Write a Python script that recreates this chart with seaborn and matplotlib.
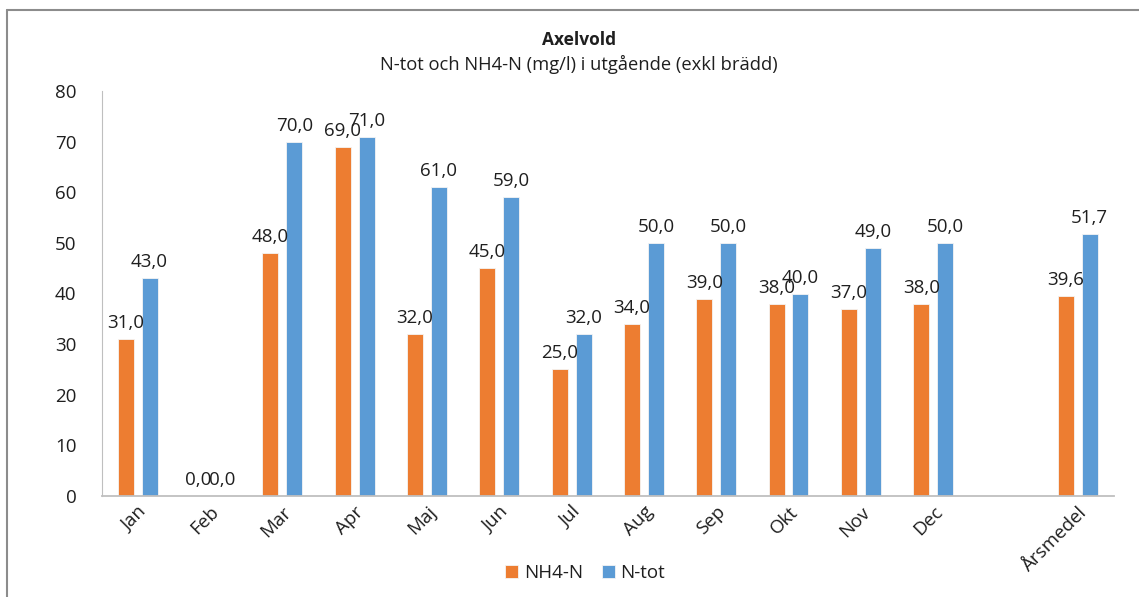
import seaborn as sns
import matplotlib.pyplot as plt
import pandas as pd
from matplotlib.lines import Line2D

# chart data
months = ["Jan", "Feb", "Mar", "Apr", "Maj", "Jun", "Jul", "Aug", "Sep", "Okt", "Nov", "Dec", "Årsmedel"]
nh4_n = [31.0, 0.0, 48.0, 69.0, 32.0, 45.0, 25.0, 34.0, 39.0, 38.0, 37.0, 38.0, 39.6]
n_tot = [43.0, 0.0, 70.0, 71.0, 61.0, 59.0, 32.0, 50.0, 50.0, 40.0, 49.0, 50.0, 51.7]
series_names = ["NH4-N", "N-tot"]
# empty slot between Dec and Årsmedel, like in the Excel chart
order = months[:12] + [" "] + months[12:]
yticks = [0, 10, 20, 30, 40, 50, 60, 70, 80]

title = "Axelvold"
subtitle = "N-tot och NH4-N (mg/l) i utgående (exkl brädd)"

df = pd.DataFrame({
    "month": months * 2,
    "value": nh4_n + n_tot,
    "serie": [series_names[0]] * len(months) + [series_names[1]] * len(months),
})

sns.set_style("white")
plt.rcParams["font.family"] = ["Open Sans", "DejaVu Sans"]
text_col = "#1f1f1f"
axis_col = "#bfbfbf"

fig = plt.figure(figsize=(11.39, 5.97), dpi=100)
ax = fig.add_axes([101.5 / 1139, 1 - 496 / 597, (1114 - 101.5) / 1139, (496 - 91) / 597])

sns.barplot(data=df, x="month", y="value", hue="serie", order=order,
            hue_order=series_names, palette=["#ED7D31", "#5B9BD5"], saturation=1,
            width=0.66, gap=0.33, edgecolor="#f4f4f4", linewidth=0.6,
            legend=True, ax=ax)

for c in ax.containers:
    labels = [f"{v:.1f}".replace(".", ",") for v in c.datavalues]
    ax.bar_label(c, labels=labels, padding=5, fontsize=13.5, color=text_col)

ax.set_ylim(0, 80)
ax.set_yticks(yticks)
ax.set_xlim(-0.5, len(order) - 0.5)
ax.set_xlabel("")
ax.set_ylabel("")
ax.tick_params(axis="y", labelsize=13.5, colors=text_col, length=0, pad=18)
ax.tick_params(axis="x", labelsize=13.5, colors=text_col, length=0, pad=5)
for lab in ax.get_xticklabels():
    lab.set_rotation(45)
    lab.set_ha("right")
    lab.set_va("top")
    lab.set_rotation_mode("anchor")

for s in ["top", "right"]:
    ax.spines[s].set_visible(False)
ax.spines["left"].set_color(axis_col)
ax.spines["bottom"].set_color(axis_col)
ax.spines["bottom"].set_linewidth(1.3)

handles, lbls = ax.get_legend_handles_labels()
ax.get_legend().remove()
fig.legend(handles, lbls, loc="center", bbox_to_anchor=(585 / 1139, 1 - 573 / 597),
           ncol=2, frameon=False, fontsize=13.5, handlelength=0.7, handleheight=0.7,
           handletextpad=0.3, columnspacing=1.0, labelcolor=text_col)

fig.text(579 / 1139, 1 - 40 / 597, title, ha="center", va="center",
         fontsize=12.5, fontweight="bold", color=text_col)
fig.text(579 / 1139, 1 - 64 / 597, subtitle, ha="center", va="center",
         fontsize=13.2, color=text_col)

# outer chart frame (top and left edges are visible in the reference)
frame_col = "#8c8c8c"
fig.add_artist(Line2D([7 / 1139, 1], [1 - 10 / 597, 1 - 10 / 597], transform=fig.transFigure,
                      color=frame_col, linewidth=1.5))
fig.add_artist(Line2D([7 / 1139, 7 / 1139], [0, 1 - 10 / 597], transform=fig.transFigure,
                      color=frame_col, linewidth=1.5))

fig.savefig("out.png", dpi=100)
